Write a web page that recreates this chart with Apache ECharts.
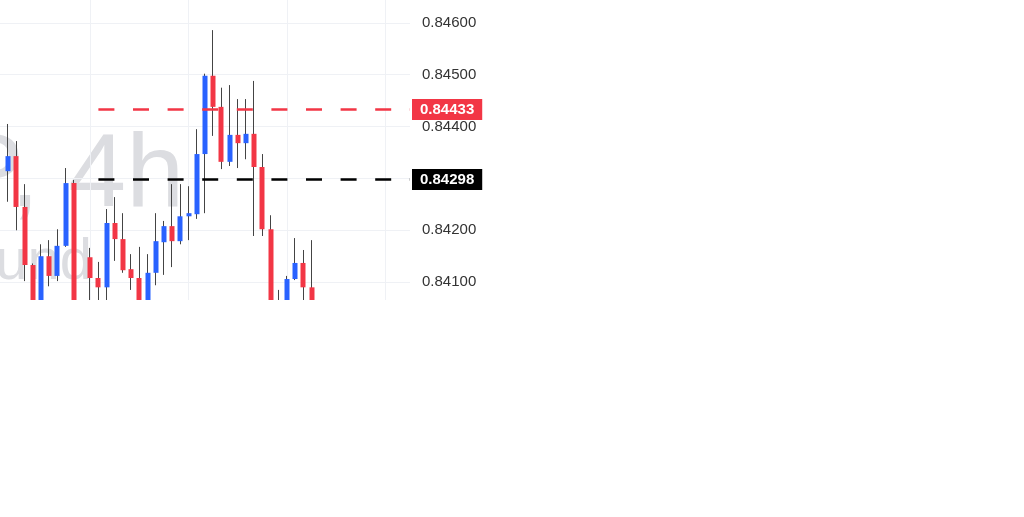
<!DOCTYPE html>
<html lang="en">
<head>
    <meta charset="utf-8">
    <title>EURGBP 4h</title>
    <script src="https://cdn.jsdelivr.net/npm/echarts@6/dist/echarts.min.js"></script>
    <style>
        html, body { margin: 0; padding: 0; background: #fff; }
        #main { width: 1024px; height: 517px; }
    </style>
</head>
<body>
<div id="main"></div>
<script>
// candles, left to right (open, close, low, high)
var opens  = [0.84314, 0.84343, 0.84245, 0.84133, 0.84050, 0.84150, 0.84112, 0.84170, 0.84291, 0.84030,
              0.84148, 0.84108, 0.84090, 0.84214, 0.84183, 0.84125, 0.84108, 0.84050, 0.84118, 0.84177,
              0.84208, 0.84179, 0.84227, 0.84231, 0.84347, 0.84498, 0.84438, 0.84332, 0.84384, 0.84368,
              0.84386, 0.84322, 0.84202, 0.84020, 0.84055, 0.84106, 0.84137, 0.84090];
var closes = [0.84343, 0.84245, 0.84133, 0.84050, 0.84150, 0.84112, 0.84170, 0.84291, 0.84030, 0.84045,
              0.84108, 0.84090, 0.84214, 0.84183, 0.84123, 0.84108, 0.84050, 0.84118, 0.84179, 0.84208,
              0.84179, 0.84227, 0.84233, 0.84347, 0.84498, 0.84438, 0.84332, 0.84384, 0.84368, 0.84386,
              0.84322, 0.84202, 0.84020, 0.84055, 0.84106, 0.84137, 0.84090, 0.84060];
var lows   = [0.84255, 0.84200, 0.84102, 0.84030, 0.84040, 0.84092, 0.84102, 0.84168, 0.84010, 0.84000,
              0.84060, 0.84060, 0.84055, 0.84141, 0.84118, 0.84085, 0.84040, 0.84045, 0.84094, 0.84114,
              0.84129, 0.84173, 0.84181, 0.84222, 0.84233, 0.84382, 0.84318, 0.84324, 0.84320, 0.84337,
              0.84189, 0.84189, 0.84000, 0.84010, 0.84045, 0.84104, 0.84060, 0.84040];
var highs  = [0.84405, 0.84372, 0.84289, 0.84136, 0.84173, 0.84181, 0.84202, 0.84320, 0.84297, 0.84060,
              0.84166, 0.84139, 0.84241, 0.84264, 0.84233, 0.84154, 0.84168, 0.84154, 0.84233, 0.84218,
              0.84289, 0.84289, 0.84285, 0.84395, 0.84502, 0.84586, 0.84475, 0.84480, 0.84453, 0.84453,
              0.84488, 0.84347, 0.84229, 0.84085, 0.84112, 0.84185, 0.84162, 0.84181];

// price levels drawn as dashed lines with a tag on the price scale
var levelValues = [0.84433, 0.84298];
var levelStart = 12;          // category where the level lines begin

// price scale
var priceMin = 0.840, priceMax = 0.847, priceStep = 0.001;

// time slots (51), first one empty; vertical grid lines at these slots
var slots = [];
for (var i = 0; i < 51; i++) slots.push(String(i));
var dayLines = [11, 23, 35, 47];

var wickData = [], bodyData = [];
for (var k = 0; k < opens.length; k++) {
    wickData.push([k + 1, opens[k], closes[k], lows[k], highs[k]]);
    bodyData.push([k + 1, opens[k], closes[k],
        Math.min(opens[k], closes[k]), Math.max(opens[k], closes[k])]);
}

var UP = '#2962ff', DOWN = '#f23645', WICK = '#444';
var FONT = 'Liberation Sans, Arial, sans-serif';

function levelLine(v, color) {
    return [
        { coord: [levelStart, v], lineStyle: { color: color } },
        {
            coord: [slots.length - 1, v],
            label: {
                show: true, position: 'end', distance: 2,
                formatter: v.toFixed(5),
                color: '#fff', fontSize: 15, fontFamily: FONT, fontWeight: 600,
                backgroundColor: color, padding: [3, 8, 3, 8]
            }
        }
    ];
}

var myChart = echarts.init(document.getElementById('main'));
myChart.setOption({
    animation: false,
    backgroundColor: '#fff',
    grid: { left: 0, width: 410, top: -29, height: 363, containLabel: false, outerBoundsMode: 'none' },
    xAxis: {
        type: 'category', data: slots, boundaryGap: false,
        axisLine: { show: false }, axisTick: { show: false }, axisLabel: { show: false },
        splitLine: {
            show: true,
            interval: function (idx) { return dayLines.indexOf(idx) >= 0; },
            lineStyle: { color: '#eff1f5', width: 1 }
        }
    },
    yAxis: {
        type: 'value', position: 'right',
        min: priceMin, max: priceMax, interval: priceStep,
        axisLine: { show: false }, axisTick: { show: false },
        axisLabel: {
            margin: 12, fontSize: 15, color: '#333', fontFamily: FONT,
            formatter: function (v) { return v.toFixed(5); }
        },
        splitLine: { lineStyle: { color: '#eff1f5', width: 1 } }
    },
    graphic: [
        { type: 'text', x: 184, y: 177, z: 0, silent: true,
          style: { text: 'EURGBP, 4h', font: '104px ' + FONT, fill: '#dcdde1', align: 'right', verticalAlign: 'middle' } },
        { type: 'text', x: 92, y: 263, z: 0, silent: true,
          style: { text: 'Euro / British Pound', font: '58px ' + FONT, fill: '#dcdde1', align: 'right', verticalAlign: 'middle' } },
        // picture is cut off below the pane
        { type: 'rect', left: 0, top: 300, z: 100, silent: true,
          shape: { width: 1024, height: 217 }, style: { fill: '#fff' } }
    ],
    series: [
        {
            name: 'wick', type: 'candlestick', data: wickData,
            encode: { x: 0, y: [1, 2, 3, 4] },
            barWidth: 0.5, z: 3, silent: true,
            itemStyle: { color: WICK, color0: WICK, borderColor: WICK, borderColor0: WICK, borderWidth: 1 }
        },
        {
            name: 'body', type: 'candlestick', data: bodyData,
            encode: { x: 0, y: [1, 2, 3, 4] },
            barWidth: 5.4, z: 4, silent: true,
            itemStyle: { color: UP, color0: DOWN, borderColor: UP, borderColor0: DOWN, borderWidth: 0 },
            markLine: {
                silent: true, symbol: ['none', 'none'], animation: false,
                lineStyle: { type: [16, 18.6], width: 2.6, cap: 'butt' },
                label: { show: false },
                data: [
                    levelLine(levelValues[0], DOWN),
                    levelLine(levelValues[1], '#000')
                ]
            }
        }
    ]
});
</script>
</body>
</html>
